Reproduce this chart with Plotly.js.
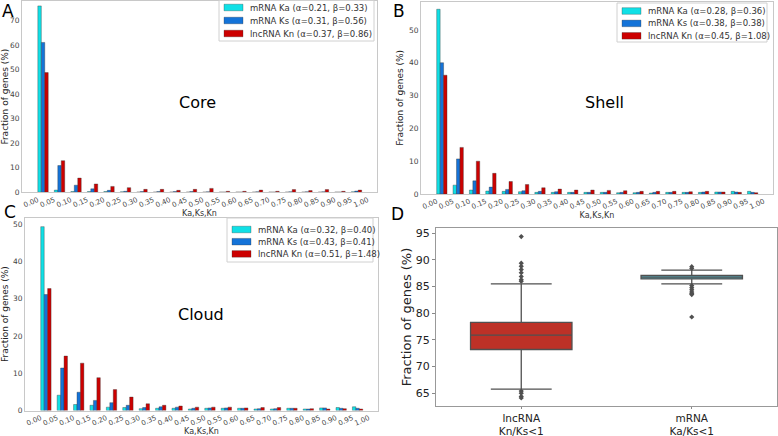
<!DOCTYPE html>
<html><head><meta charset="utf-8">
<script src="https://cdn.plot.ly/plotly-3.0.1.min.js"></script>
<style>html,body{margin:0;padding:0;background:#fff}#chart{width:778px;height:436px}</style>
</head><body><div id="chart"></div>
<script>
// ---------- data ----------
const binLefts = [0.00,0.05,0.10,0.15,0.20,0.25,0.30,0.35,0.40,0.45,0.50,0.55,0.60,0.65,0.70,0.75,0.80,0.85,0.90,0.95];
const tickVals = [0.00,0.05,0.10,0.15,0.20,0.25,0.30,0.35,0.40,0.45,0.50,0.55,0.60,0.65,0.70,0.75,0.80,0.85,0.90,0.95,1.00];
const tickText = ["0.00","0.05","0.10","0.15","0.20","0.25","0.30","0.35","0.40","0.45","0.50","0.55","0.60","0.65","0.70","0.75","0.80","0.85","0.90","0.95","1.00"];

const coreKa = [76.0,0.9,0.3,0.3,0.3,0.2,0.1,0.1,0.1,0.1,0.1,0.1,0.1,0.1,0.1,0.1,0.1,0.1,0.1,0.2];
const coreKs = [61.1,10.9,2.9,1.4,0.8,0.4,0.3,0.3,0.3,0.3,0.2,0.1,0.1,0.2,0.1,0.2,0.2,0.2,0.1,0.5];
const coreKn = [48.8,12.9,5.8,3.4,2.4,1.9,1.2,1.2,0.8,1.2,1.6,0.4,0.4,0.9,0.4,1.1,0.7,1.1,0.4,0.9];

const shellKa = [56.3,2.7,1.2,0.9,0.8,0.7,0.5,0.5,0.5,0.5,0.5,0.4,0.4,0.3,0.5,0.5,0.5,0.6,0.8,0.8];
const shellKs = [40.0,10.7,4.0,2.1,1.4,1.0,0.8,0.7,0.5,0.5,0.5,0.5,0.5,0.5,0.5,0.5,0.6,0.6,0.6,0.5];
const shellKn = [36.2,14.2,10.0,6.3,3.8,2.9,1.9,1.5,1.2,1.2,1.1,1.0,0.8,0.8,0.8,0.7,0.8,0.6,0.5,0.4];

const cloudKa = [49.3,4.1,1.6,1.4,0.9,0.8,0.5,0.6,0.6,0.4,0.6,0.6,0.6,0.4,0.4,0.6,0.4,0.7,0.8,1.0];
const cloudKs = [31.1,11.4,4.9,2.7,2.1,1.4,0.8,1.0,0.9,0.6,0.7,0.7,0.6,0.5,0.5,0.6,0.4,0.7,0.6,0.6];
const cloudKn = [32.7,14.6,12.7,8.8,5.6,3.6,1.8,1.4,1.2,0.9,0.9,0.9,0.7,0.8,0.8,0.6,0.5,0.4,0.5,0.4];

const coreLegend  = ["mRNA Ka (α=0.21, β=0.33)","mRNA Ks (α=0.31, β=0.56)","lncRNA Kn (α=0.37, β=0.86)"];
const shellLegend = ["mRNA Ka (α=0.28, β=0.36)","mRNA Ks (α=0.38, β=0.38)","lncRNA Kn (α=0.45, β=1.08)"];
const cloudLegend = ["mRNA Ka (α=0.32, β=0.40)","mRNA Ks (α=0.43, β=0.41)","lncRNA Kn (α=0.51, β=1.48)"];

const boxCats   = ["lncRNA","mRNA"];
const boxLabels = ["lncRNA<br>Kn/Ks&lt;1","mRNA<br>Ka/Ks&lt;1"];
const boxQ1     = [73.2, 86.45];
const boxMedian = [75.9, 86.8];
const boxQ3     = [78.3, 87.1];
const boxLow    = [65.75, 85.5];
const boxHigh   = [85.5, 88.1];
const lncOutliers  = [94.4,89.4,88.8,88.2,87.6,86.9,86.3,86.0,65.4,65.0,64.4,64.1];
const mrnaOutliers = [88.75,88.4,85.2,84.8,84.4,84.0,83.7,83.5,79.3];

// ---------- styling ----------
const W = 778, H = 436;
const px = v => v / W;
const py = v => 1 - v / H;
const FONT = "DejaVu Sans";
const barColors = ["#10e0e6","#1473d8","#cc0000"];
const barW = 0.0105;

function barTraces(series, xa, ya) {
  return series.map((vals, i) => ({
    type: "bar", x: binLefts, y: vals, xaxis: xa, yaxis: ya,
    width: barW, offset: i * barW,
    marker: {color: barColors[i], line: {color: "rgba(50,50,50,0.75)", width: 0.5}},
    showlegend: false, hoverinfo: "skip"
  }));
}

const traces = [
  ...barTraces([coreKa, coreKs, coreKn], "x", "y"),
  ...barTraces([shellKa, shellKs, shellKn], "x2", "y2"),
  ...barTraces([cloudKa, cloudKs, cloudKn], "x3", "y3"),
];
const boxFills = ["#bd3127", "#55adbc"];
boxCats.forEach((c, i) => {
  traces.push({
    type: "box", x: [c], q1: [boxQ1[i]], median: [boxMedian[i]], q3: [boxQ3[i]],
    lowerfence: [boxLow[i]], upperfence: [boxHigh[i]],
    xaxis: "x4", yaxis: "y4", boxpoints: false,
    fillcolor: boxFills[i], line: {color: "#505050", width: 1.3},
    whiskerwidth: 0.6, showlegend: false, hoverinfo: "skip"
  });
});
[lncOutliers, mrnaOutliers].forEach((arr, i) => {
  traces.push({
    type: "scatter", mode: "markers", x: arr.map(() => boxCats[i]), y: arr,
    xaxis: "x4", yaxis: "y4",
    marker: {symbol: "diamond", size: 4, color: "#505050"},
    showlegend: false, hoverinfo: "skip"
  });
});

function histX(domain, anchor) {
  return {
    domain: domain, anchor: anchor, range: [-0.048, 1.028],
    tickvals: tickVals, ticktext: tickText, tickangle: -23,
    tickfont: {family: FONT, size: 7, color: "#444"},
    showline: true, mirror: true, linecolor: "#c8c8c8", linewidth: 1,
    ticks: "", showgrid: false, zeroline: false,
    title: {text: "Ka,Ks,Kn", font: {family: FONT, size: 8, color: "#333"}, standoff: 0}
  };
}
function histY(domain, anchor, range) {
  return {
    domain: domain, anchor: anchor, range: range, dtick: 10,
    tickfont: {family: FONT, size: 7.5, color: "#444"},
    showline: true, mirror: true, linecolor: "#c8c8c8", linewidth: 1,
    ticks: "", showgrid: false, zeroline: false,
    title: {text: "Fraction of genes (%)", font: {family: FONT, size: 9, color: "#222"}, standoff: 3}
  };
}

const shapes = [];
const annotations = [];
function legendBox(x0, y0, x1, y1, firstRow, rowGap, labels) {
  shapes.push({type: "rect", xref: "paper", yref: "paper", x0: px(x0), x1: px(x1), y0: py(y1), y1: py(y0),
    line: {color: "#d0d0d0", width: 1}, fillcolor: "rgba(255,255,255,0.85)"});
  labels.forEach((t, i) => {
    const yc = firstRow + i * rowGap;
    shapes.push({type: "rect", xref: "paper", yref: "paper", x0: px(x0 + 5), x1: px(x0 + 24),
      y0: py(yc + 3.3), y1: py(yc - 3.3), line: {color: "rgba(50,50,50,0.6)", width: 0.5}, fillcolor: barColors[i]});
    annotations.push({xref: "paper", yref: "paper", x: px(x0 + 29), y: py(yc), text: t, showarrow: false,
      xanchor: "left", yanchor: "middle", font: {family: FONT, size: 8.5, color: "#333"}});
  });
}
legendBox(219, 0.5, 374, 41, 7.5, 13, coreLegend);
legendBox(617, 3, 767, 42, 11, 12.4, shellLegend);
legendBox(227, 218, 373, 262, 229.5, 12.2, cloudLegend);

[["Core", 197, 102], ["Shell", 604, 102], ["Cloud", 201, 314]].forEach(([t, x, y]) => {
  annotations.push({xref: "paper", yref: "paper", x: px(x), y: py(y), text: t, showarrow: false,
    xanchor: "center", yanchor: "middle", font: {family: FONT, size: 16, color: "#000"}});
});
[["A", 0, 10.5], ["B", 391, 11.5], ["C", 2, 212.5], ["D", 389, 214]].forEach(([t, x, y]) => {
  annotations.push({xref: "paper", yref: "paper", x: px(x), y: py(y), text: t, showarrow: false,
    xanchor: "left", yanchor: "middle", font: {family: FONT, size: 17, color: "#000"}});
});

const layout = {
  width: W, height: H, margin: {l: 0, r: 0, t: 0, b: 0},
  paper_bgcolor: "#fff", plot_bgcolor: "#fff",
  barmode: "overlay", boxmode: "overlay", boxgap: 0.15,
  font: {family: FONT},
  xaxis:  histX([px(22), px(377)], "y"),
  yaxis:  histY([py(192.3), py(1)], "x", [0, 78.0]),
  xaxis2: histX([px(421), px(773)], "y2"),
  yaxis2: histY([py(194), py(1.7)], "x2", [0, 58.6]),
  xaxis3: histX([px(25), px(378)], "y3"),
  yaxis3: histY([py(410.5), py(217.7)], "x3", [0, 51.7]),
  xaxis4: {domain: [px(436), px(777)], anchor: "y4", type: "category",
    categoryarray: boxCats, tickvals: boxCats, ticktext: boxLabels, range: [-0.5, 1.5],
    tickfont: {family: FONT, size: 10.5, color: "#222"}, ticks: "outside", ticklen: 2, tickcolor: "#888",
    showline: true, mirror: true, linecolor: "#999", linewidth: 1, showgrid: false, zeroline: false},
  yaxis4: {domain: [py(406), py(228)], anchor: "x4", range: [62.6, 96.0], dtick: 5,
    tickfont: {family: FONT, size: 11, color: "#222"}, ticks: "outside", ticklen: 3, tickcolor: "#888",
    showline: true, mirror: true, linecolor: "#999", linewidth: 1, showgrid: false, zeroline: false,
    title: {text: "Fraction of genes (%)", font: {family: FONT, size: 13, color: "#222"}, standoff: 1}},
  shapes: shapes, annotations: annotations
};

Plotly.newPlot("chart", traces, layout, {staticPlot: true, displayModeBar: false});
</script></body></html>
